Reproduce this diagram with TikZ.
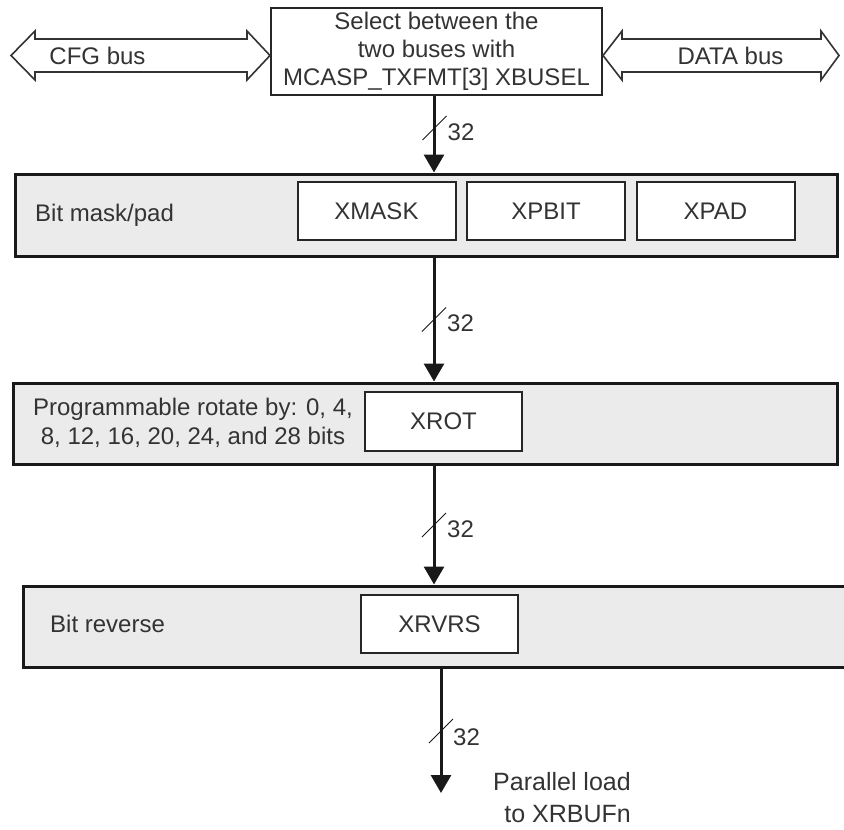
\documentclass[tikz,border=0pt]{standalone}
\usepackage{fontspec}
\setmainfont{Liberation Sans}
\usetikzlibrary{positioning, arrows.meta, calc}

\begin{document}
\begin{tikzpicture}[
    x=1pt, y=-1pt,
    lbl/.style={inner sep=0pt, text=black!80, font=\fontsize{24}{29}\selectfont},
    sel/.style={rectangle, draw=black!85, fill=white, line width=2pt, minimum width=331pt, minimum height=87pt, inner sep=0pt, align=center, text=black!80, font=\fontsize{24}{28}\selectfont},
    band/.style={rectangle, draw=black!90, fill=black!8, line width=3pt, minimum height=81pt, inner sep=0pt},
    field/.style={rectangle, draw=black!85, fill=white, line width=2pt, minimum width=158pt, minimum height=58pt, inner sep=0pt, text=black!80, font=\fontsize{24}{29}\selectfont},
    bus/.style={draw=black!80, line width=1.6pt, fill=white, line join=miter},
    arr/.style={-{Triangle[length=18pt, width=20pt]}, line width=3pt, draw=black!90},
    slash/.style={draw=black!90, line width=1pt}
]
    \useasboundingbox (0,0) rectangle (844,830);

    \node[sel] (sel) at (436.5, 51.5) {Select between the\\two buses with\\MCASP\_TXFMT[3] XBUSEL};

    \draw[bus] (11,55.5) -- (35,31) -- (35,39) -- (247,39) -- (247,31) -- (270,55.5)
        -- (247,80) -- (247,72) -- (35,72) -- (35,80) -- cycle;
    \draw[bus] (603,55.5) -- (622,31) -- (622,39) -- (821,39) -- (821,31) -- (839,55.5)
        -- (821,80) -- (821,72) -- (622,72) -- (622,80) -- cycle;
    \node[lbl] (cfg) at (97.5, 55.5) {CFG bus};
    \node[lbl] (data) at (730.5, 55.5) {DATA bus};

    \node[band, minimum width=822pt, minimum height=82pt] (mask) at (426, 215) {};
    \node[lbl, anchor=west] (masklbl) at (35, 215) {Bit mask/pad};
    \node[field] (xmask) at (376.5, 211) {XMASK};
    \node[field, right=9.5pt of xmask] (xpbit) {XPBIT};
    \node[field, right=9.5pt of xpbit] (xpad) {XPAD};

    \node[band, minimum width=824pt] (rot) at (425, 423.5) {};
    \node[lbl, align=center] (rotlbl) at (193, 422.5) {Programmable rotate by: 0, 4,\\8, 12, 16, 20, 24, and 28 bits};
    \node[field, minimum width=157pt, minimum height=59pt] (xrot) at (443.5, 421.5) {XROT};

    \node[band, minimum width=825pt] (rvrs) at (435.5, 626.5) {};
    \node[lbl, anchor=west] (rvrslbl) at (50, 624) {Bit reverse};
    \node[field, minimum width=157pt] (xrvrs) at (439.5, 624) {XRVRS};

    \coordinate (xa) at (434, 0);
    \coordinate (xb) at (441, 0);
    \coordinate (out) at (441, 793);

    \draw[arr] (sel.south -| xa) -- (mask.north -| xa);
    \draw[arr] (mask.south -| xa) -- (rot.north -| xa);
    \draw[arr] (rot.south -| xa) -- (rvrs.north -| xa);
    \draw[arr] (rvrs.south -| xb) -- (out);

    \coordinate (w1) at (434.5, 128);
    \coordinate (w2) at (434, 319.5);
    \coordinate (w3) at (434, 525);
    \coordinate (w4) at (441, 731);

    \draw[slash] ($(w1)+(-12,12)$) -- ($(w1)+(12,-12)$);
    \draw[slash] ($(w2)+(-12,12)$) -- ($(w2)+(12,-12)$);
    \draw[slash] ($(w3)+(-12,12)$) -- ($(w3)+(12,-12)$);
    \draw[slash] ($(w4)+(-12,12)$) -- ($(w4)+(12,-12)$);

    \node[lbl, anchor=west] (n1) at ($(w1)+(13,4)$) {32};
    \node[lbl, anchor=west] (n2) at ($(w2)+(13,4)$) {32};
    \node[lbl, anchor=west] (n3) at ($(w3)+(13,4)$) {32};
    \node[lbl, anchor=west] (n4) at ($(w4)+(12,6)$) {32};

    \node[lbl, align=right, anchor=east, font=\fontsize{25}{32}\selectfont] (load) at (631, 798) {Parallel load\\to XRBUFn};
\end{tikzpicture}
\end{document}
